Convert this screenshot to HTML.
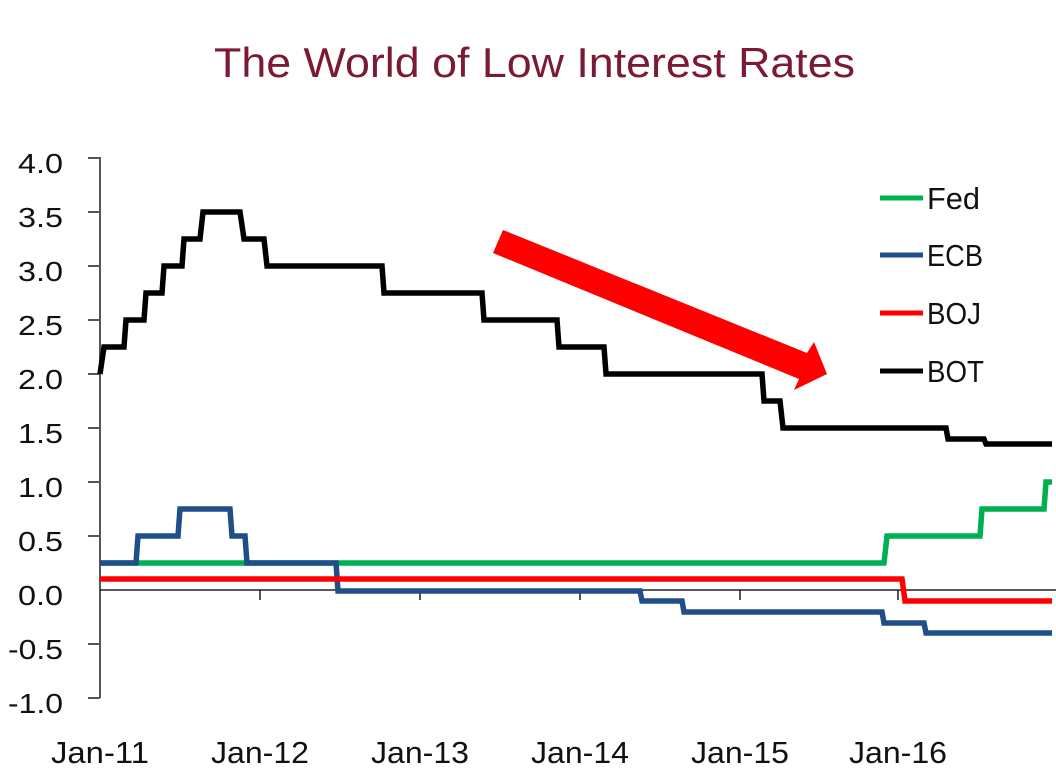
<!DOCTYPE html>
<html><head><meta charset="utf-8"><style>html,body{margin:0;padding:0;background:#fff}svg{display:block}</style></head>
<body>
<svg width="1056" height="773" viewBox="0 0 1056 773" xmlns="http://www.w3.org/2000/svg" font-family="Liberation Sans, sans-serif">
<text x="214" y="77" font-size="42" fill="#7B1A33" textLength="641" lengthAdjust="spacingAndGlyphs">The World of Low Interest Rates</text>
<g font-size="28" fill="#111">
<text x="18" y="173" textLength="45" lengthAdjust="spacingAndGlyphs">4.0</text>
<text x="18" y="227" textLength="45" lengthAdjust="spacingAndGlyphs">3.5</text>
<text x="18" y="281" textLength="45" lengthAdjust="spacingAndGlyphs">3.0</text>
<text x="18" y="335" textLength="45" lengthAdjust="spacingAndGlyphs">2.5</text>
<text x="18" y="389" textLength="45" lengthAdjust="spacingAndGlyphs">2.0</text>
<text x="18" y="443" textLength="45" lengthAdjust="spacingAndGlyphs">1.5</text>
<text x="18" y="497" textLength="45" lengthAdjust="spacingAndGlyphs">1.0</text>
<text x="18" y="551" textLength="45" lengthAdjust="spacingAndGlyphs">0.5</text>
<text x="18" y="605" textLength="45" lengthAdjust="spacingAndGlyphs">0.0</text>
<text x="8" y="659" textLength="55" lengthAdjust="spacingAndGlyphs">-0.5</text>
<text x="8" y="713" textLength="55" lengthAdjust="spacingAndGlyphs">-1.0</text>
</g>
<g font-size="31" fill="#111">
<text x="51" y="763" textLength="98" lengthAdjust="spacingAndGlyphs">Jan-11</text>
<text x="211" y="763" textLength="98" lengthAdjust="spacingAndGlyphs">Jan-12</text>
<text x="371" y="763" textLength="98" lengthAdjust="spacingAndGlyphs">Jan-13</text>
<text x="531" y="763" textLength="98" lengthAdjust="spacingAndGlyphs">Jan-14</text>
<text x="691" y="763" textLength="98" lengthAdjust="spacingAndGlyphs">Jan-15</text>
<text x="849" y="763" textLength="98" lengthAdjust="spacingAndGlyphs">Jan-16</text>
</g>
<g stroke="#555" stroke-width="2" fill="none">
<line x1="100" y1="157" x2="100" y2="698"/>
<path d="M88 158H100M88 212H100M88 266H100M88 320H100M88 374H100M88 428H100M88 482H100M88 536H100M88 644H100M88 698H100"/>
<path d="M260 590V600M420 590V600M580 590V600M740 590V600M898 590V600"/>
</g>
<line x1="100" y1="590" x2="1056" y2="590" stroke="#222" stroke-width="1.5"/>
<g fill="none" stroke-width="5.5" stroke-linejoin="miter">
<path stroke="#00B050" d="M100 563H884L887 536H980L982 509H1044L1046 482H1052"/>
<path stroke="#1F4E88" d="M100 563H136L138 536H178L180 509H230L232 536H245L247 563H336L338 591H640L642 601H682L684 612H882L884 623H924L926 633H1052"/>
<path stroke="#FF0000" d="M100 579H902L905 601H1052"/>
<path stroke="#000" d="M100 374L104 347H124L126 320H144L146 293H162L164 266H182L184 239H200L203 212H240L244 239H264L267 266H382L384 293H482L484 320H557L559 347H604L606 374H762L764 401H780L783 428H946L948 439H984L986 444H1052"/>
</g>
<polygon fill="#FF0000" points="503,230 807,353 814,342 827,374 794,390 799,379 493,253"/>
<g stroke-width="5">
<line x1="880" y1="198" x2="923" y2="198" stroke="#00B050"/>
<line x1="880" y1="255" x2="923" y2="255" stroke="#1F4E88"/>
<line x1="880" y1="313" x2="923" y2="313" stroke="#FF0000"/>
<line x1="880" y1="371" x2="923" y2="371" stroke="#000"/>
</g>
<g font-size="31" fill="#111">
<text x="927" y="209" textLength="53" lengthAdjust="spacingAndGlyphs">Fed</text>
<text x="927" y="266" textLength="56" lengthAdjust="spacingAndGlyphs">ECB</text>
<text x="927" y="324" textLength="54" lengthAdjust="spacingAndGlyphs">BOJ</text>
<text x="927" y="382" textLength="57" lengthAdjust="spacingAndGlyphs">BOT</text>
</g>
</svg>
</body></html>
